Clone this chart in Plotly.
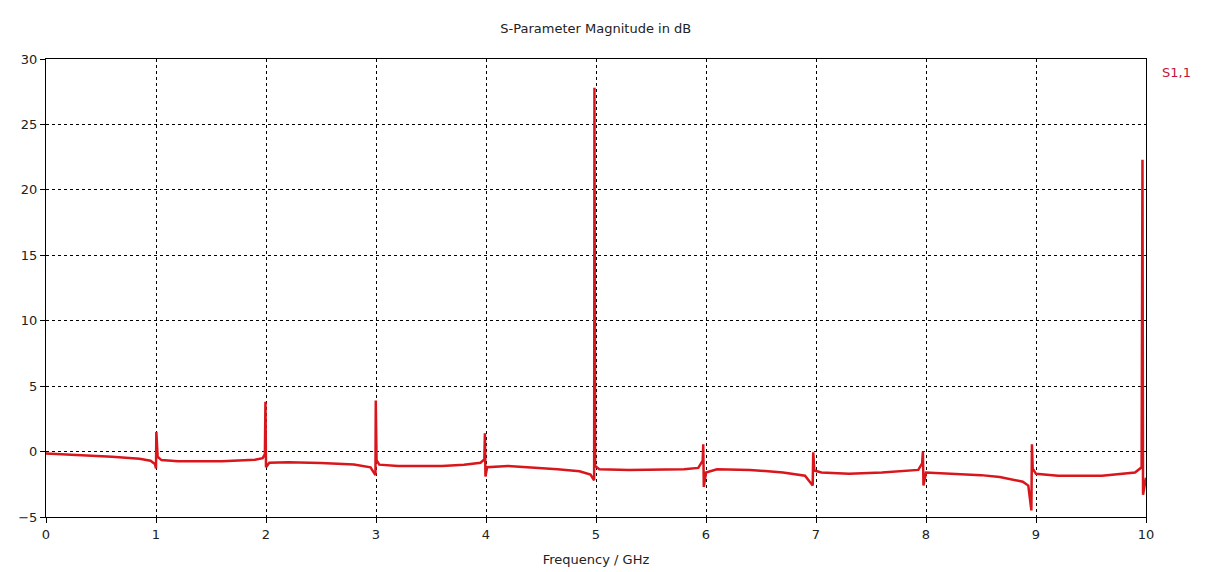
import plotly.graph_objects as go

freq_ghz = [
    0.0, 0.3, 0.6, 0.85, 0.95, 0.99, 1.0, 1.003, 1.008, 1.015, 1.05, 1.2,
    1.6, 1.9, 1.97, 1.99, 1.995, 2.0, 2.03, 2.2,
    2.5, 2.8, 2.95, 2.995, 2.998, 3.005, 3.03, 3.2,
    3.6, 3.8, 3.95, 3.985, 3.99, 3.995, 4.01, 4.2,
    4.65, 4.85, 4.95, 4.983, 4.986, 4.992, 5.03, 5.3,
    5.8, 5.93, 5.97, 5.975, 5.98, 6.0, 6.1,
    6.4, 6.7, 6.9, 6.97, 6.975, 6.985, 7.05,
    7.3, 7.6, 7.93, 7.965, 7.972, 7.977, 8.0, 8.1,
    8.5, 8.67, 8.88, 8.93, 8.958, 8.963, 8.97, 9.0,
    9.2, 9.6, 9.9, 9.96, 9.968, 9.973, 10.0,
]
s11_db = [
    -0.15, -0.25, -0.4, -0.55, -0.7, -0.95, -1.3, 1.5, 0.6, -0.4, -0.65, -0.74,
    -0.74, -0.62, -0.5, -0.2, 3.8, -1.2, -0.85, -0.82,
    -0.88, -0.98, -1.2, -1.8, 3.9, -0.65, -1.0, -1.1,
    -1.1, -1.0, -0.85, -0.6, 1.4, -1.9, -1.2, -1.1,
    -1.35, -1.5, -1.75, -2.2, 27.8, -1.1, -1.35, -1.4,
    -1.35, -1.25, -0.7, 0.55, -2.7, -1.6, -1.35,
    -1.4, -1.6, -1.85, -2.6, -0.05, -1.45, -1.6,
    -1.7, -1.6, -1.4, -0.9, 0.0, -2.6, -1.6, -1.65,
    -1.8, -1.95, -2.3, -2.6, -4.5, 0.55, -1.3, -1.7,
    -1.85, -1.85, -1.6, -1.2, 22.3, -3.3, -2.0,
]

x_ticks = list(range(0, 11))
y_ticks = list(range(-5, 31, 5))

FONT = "DejaVu Sans"

fig = go.Figure()
fig.add_trace(go.Scatter(
    x=freq_ghz, y=s11_db, mode="lines", name="S1,1",
    line=dict(color="#d9161c", width=2.5), showlegend=False,
))

axis_common = dict(
    showline=True, linecolor="black", linewidth=1, mirror=True,
    showgrid=True, gridcolor="black", griddash="3px,3px", gridwidth=1,
    zeroline=False, ticks="outside", ticklen=5, tickcolor="black",
    automargin=False,
    tickfont=dict(family=FONT, size=13, color="#222"),
)

fig.update_layout(
    width=1217, height=572,
    paper_bgcolor="white", plot_bgcolor="white",
    margin=dict(l=38, r=79, t=51, b=63),
    title=dict(text="S-Parameter Magnitude in dB", x=0.483, xanchor="center",
               y=0.965, yanchor="middle",
               font=dict(family=FONT, size=13, color="#222")),
    xaxis=dict(range=[0, 10], tickvals=x_ticks,
               title=dict(text="Frequency / GHz", standoff=14,
                          font=dict(family=FONT, size=13, color="#222")),
               **axis_common),
    yaxis=dict(range=[-5, 30], tickvals=y_ticks, **axis_common),
    annotations=[dict(text="S1,1", x=1.0127, y=0.9716, xref="paper", yref="paper",
                      xanchor="left", yanchor="middle", showarrow=False,
                      font=dict(family=FONT, size=13, color="#c0183a"))],
)

fig.write_html("out.html")
